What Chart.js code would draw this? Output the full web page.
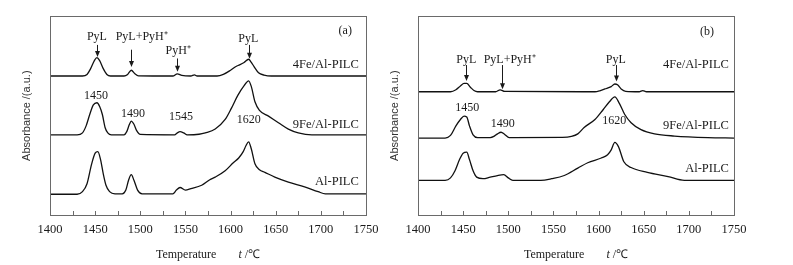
<!DOCTYPE html>
<html>
<head>
<meta charset="utf-8">
<script src="https://cdn.jsdelivr.net/npm/chart.js@4.4.1/dist/chart.umd.min.js"></script>
<style>
html, body { margin: 0; padding: 0; background: #fff; }
#wrap { position: relative; width: 793px; height: 265px; overflow: hidden; }
canvas { position: absolute; top: 0; }
#chartA { left: 0; }
#chartB { left: 368px; }
</style>
</head>
<body>
<div id="wrap">
  <canvas id="chartA" width="396" height="265"></canvas>
  <canvas id="chartB" width="425" height="265"></canvas>
</div>
<script>
// panel (a) spectra, wavenumber vs absorbance (a.u., curves stacked)
const a4FeX = [1400,1420,1436,1441,1445,1449,1452,1455,1459,1463,1467,1482,1486,1490,1494,1498,1536,1541,1546,1556,1560,1563,1585,1592,1600,1606,1610,1615,1620,1623,1626,1631,1637,1645,1750];
const a4FeY = [6.99,6.99,6.99,7.07,7.36,7.75,7.91,7.76,7.36,7.07,6.99,6.99,7.07,7.28,7.10,7.00,6.99,7.10,7.02,6.99,7.05,6.99,6.99,7.07,7.28,7.47,7.55,7.67,7.83,7.67,7.46,7.15,7.04,6.99,6.99];

const a9FeX = [1400,1430,1436,1440,1444,1448,1452,1455,1458,1461,1464,1468,1482,1485,1488,1490,1493,1496,1500,1538,1541,1544,1548,1552,1565,1572,1583,1594,1601,1608,1615,1620,1623,1627,1632,1642,1653,1664,1675,1690,1750];
const a9FeY = [4.04,4.04,4.14,4.49,5.06,5.54,5.65,5.46,5.06,4.41,4.14,4.04,4.04,4.20,4.57,4.73,4.57,4.25,4.06,4.04,4.14,4.20,4.14,4.04,4.07,4.14,4.33,4.81,5.38,6.02,6.51,6.75,6.46,5.70,5.27,4.98,4.65,4.33,4.14,4.04,4.04];

const aAlX = [1400,1430,1436,1441,1446,1450,1453,1456,1459,1462,1466,1472,1480,1484,1487,1490,1493,1497,1502,1536,1540,1544,1550,1556,1568,1577,1583,1594,1603,1609,1614,1617,1620,1623,1627,1632,1638,1649,1664,1682,1697,1705,1750];
const aAlY = [1.06,1.06,1.19,1.59,2.56,3.12,3.20,2.80,2.08,1.51,1.19,1.08,1.08,1.27,1.76,2.04,1.76,1.27,1.08,1.08,1.27,1.40,1.27,1.34,1.51,1.79,1.92,2.24,2.64,2.88,3.20,3.49,3.69,3.33,2.59,2.29,2.16,1.92,1.67,1.43,1.19,1.08,1.08];

// panel (b)
const b4FeX = [1400,1436,1442,1447,1451,1454,1458,1462,1466,1486,1491,1496,1596,1602,1607,1614,1618,1621,1625,1630,1645,1649,1653,1750];
const b4FeY = [6.20,6.20,6.30,6.49,6.62,6.62,6.43,6.26,6.20,6.20,6.30,6.22,6.20,6.26,6.34,6.46,6.59,6.55,6.34,6.22,6.20,6.26,6.20,6.20];

const b9FeX = [1400,1430,1436,1442,1447,1451,1454,1457,1461,1466,1480,1484,1488,1492,1496,1501,1560,1570,1577,1584,1596,1605,1612,1618,1623,1629,1636,1647,1662,1684,1721,1750];
const b9FeY = [3.88,3.88,4.01,4.49,4.81,4.98,4.94,4.49,4.04,3.90,3.90,3.96,4.09,4.17,4.06,3.90,3.91,3.96,4.09,4.41,4.81,5.30,5.70,5.94,5.62,5.06,4.65,4.30,4.09,3.98,3.90,3.88];

const bAlX = [1400,1430,1436,1441,1446,1450,1454,1457,1461,1465,1472,1480,1488,1495,1500,1505,1536,1548,1562,1577,1588,1603,1610,1614,1618,1622,1628,1636,1654,1677,1695,1750];
const bAlY = [1.76,1.76,1.88,2.24,2.80,3.12,3.17,2.80,2.24,1.92,1.84,1.92,2.00,2.04,1.88,1.76,1.76,1.84,2.00,2.37,2.64,2.88,3.04,3.29,3.66,3.45,2.69,2.40,2.16,1.95,1.76,1.76];

const xTicks = [1400, 1450, 1500, 1550, 1600, 1650, 1700, 1750];
const seriesNames = ['4Fe/Al-PILC', '9Fe/Al-PILC', 'Al-PILC'];

// text notes: x/y in data units, arrow = [x, yFrom, yTo]
const notesA = [
  {text: 'PyL', x: 1452, y: 8.93, arrow: [1452, 8.55, 7.95]},
  {text: 'PyL+PyH\u207A', x: 1501.6, y: 8.94, arrow: [1490, 8.31, 7.44]},
  {text: 'PyH\u207A', x: 1542, y: 8.27, arrow: [1541, 7.87, 7.20]},
  {text: 'PyL', x: 1619.6, y: 8.84, arrow: [1620, 8.55, 7.86]},
  {text: '1450', x: 1451, y: 6.02},
  {text: '1490', x: 1492, y: 5.11},
  {text: '1545', x: 1545, y: 4.93},
  {text: '1620', x: 1620, y: 4.78},
  {text: '(a)', x: 1727, y: 9.24}
];
const notesB = [
  {text: 'PyL', x: 1453.5, y: 7.79, arrow: [1453, 7.54, 6.74]},
  {text: 'PyL+PyH\u207A', x: 1501.6, y: 7.79, arrow: [1493, 7.54, 6.33]},
  {text: 'PyL', x: 1619, y: 7.79, arrow: [1619, 7.54, 6.71]},
  {text: '1450', x: 1454.6, y: 5.41},
  {text: '1490', x: 1494, y: 4.57},
  {text: '1620', x: 1617.5, y: 4.73},
  {text: '(b)', x: 1720, y: 9.21}
];
const labelsA = {x: 1742, y: [7.58, 4.54, 1.68]};
const labelsB = {x: 1744.4, y: [7.55, 4.49, 2.32]};

const SERIF = '"Liberation Serif", "Times New Roman", serif';

function pts(xs, ys) {
  return xs.map((v, i) => ({x: v, y: ys[i]}));
}

const panelDecor = {
  id: 'panelDecor',
  afterDatasetsDraw(chart, args, opts) {
    const {ctx, chartArea: ca, scales: {x, y}} = chart;
    ctx.save();
    // box round the plot
    ctx.strokeStyle = '#6a6a6a';
    ctx.lineWidth = 1;
    ctx.strokeRect(Math.round(ca.left) + 0.5, Math.round(ca.top) + 0.5, Math.round(ca.width), Math.round(ca.height));
    // small inward ticks every 25
    ctx.beginPath();
    for (let v = 1425; v < 1750; v += 25) {
      const px = Math.round(x.getPixelForValue(v)) + 0.5;
      ctx.moveTo(px, Math.round(ca.bottom));
      ctx.lineTo(px, Math.round(ca.bottom) - 4);
    }
    ctx.stroke();

    ctx.fillStyle = '#1a1a1a';
    ctx.strokeStyle = '#1a1a1a';
    ctx.font = '12px ' + SERIF;
    ctx.textAlign = 'center';
    ctx.textBaseline = 'middle';
    opts.notes.forEach(n => {
      ctx.fillText(n.text, x.getPixelForValue(n.x), y.getPixelForValue(n.y));
      if (n.arrow) {
        const ax = Math.round(x.getPixelForValue(n.arrow[0])) + 0.5;
        const y1 = y.getPixelForValue(n.arrow[1]);
        const y2 = y.getPixelForValue(n.arrow[2]);
        ctx.beginPath();
        ctx.moveTo(ax, y1);
        ctx.lineTo(ax, y2 - 4);
        ctx.stroke();
        ctx.beginPath();
        ctx.moveTo(ax - 2.5, y2 - 6);
        ctx.lineTo(ax + 2.5, y2 - 6);
        ctx.lineTo(ax, y2);
        ctx.closePath();
        ctx.fill();
      }
    });

    // series names on the right
    ctx.font = '12.5px ' + SERIF;
    ctx.textAlign = 'right';
    seriesNames.forEach((s, i) => {
      ctx.fillText(s, x.getPixelForValue(opts.labels.x), y.getPixelForValue(opts.labels.y[i]));
    });

    // axis title: Temperature  t /°C (t in italics)
    const cx = (ca.left + ca.right) / 2;
    const ty = 255;
    ctx.textAlign = 'left';
    ctx.font = '12px ' + SERIF;
    const w1 = ctx.measureText('Temperature').width;
    const w3 = ctx.measureText(' /\u2103').width;
    ctx.font = 'italic 12px ' + SERIF;
    const w2 = ctx.measureText('t').width;
    const gap = 22;
    let sx = cx - (w1 + gap + w2 + w3) / 2;
    ctx.font = '12px ' + SERIF;
    ctx.fillText('Temperature', sx, ty);
    sx += w1 + gap;
    ctx.font = 'italic 12px ' + SERIF;
    ctx.fillText('t', sx, ty);
    sx += w2;
    ctx.font = '12px ' + SERIF;
    ctx.fillText(' /\u2103', sx, ty);
    ctx.restore();
  }
};

function makePanel(id, rightPad, series, notes, labels) {
  const ctx = document.getElementById(id).getContext('2d');
  return new Chart(ctx, {
    type: 'line',
    data: {
      datasets: series.map((s, i) => ({
        label: seriesNames[i],
        data: s,
        borderColor: '#111',
        borderWidth: 1.3,
        pointRadius: 0,
        fill: false,
        cubicInterpolationMode: 'monotone'
      }))
    },
    options: {
      responsive: false,
      animation: false,
      devicePixelRatio: 1,
      layout: {padding: {left: 20.4, right: rightPad, top: 16, bottom: 20.6}},
      plugins: {
        legend: {display: false},
        tooltip: {enabled: false},
        panelDecor: {notes: notes, labels: labels}
      },
      scales: {
        x: {
          type: 'linear',
          min: 1400,
          max: 1750,
          afterBuildTicks: axis => { axis.ticks = xTicks.map(v => ({value: v})); },
          grid: {display: false, drawTicks: false},
          border: {display: false},
          ticks: {
            color: '#1a1a1a',
            padding: 7,
            maxRotation: 0,
            autoSkip: false,
            callback: v => String(v),
            font: {family: SERIF, size: 12.5}
          }
        },
        y: {
          min: 0,
          max: 10,
          grid: {display: false, drawTicks: false},
          border: {display: false},
          ticks: {display: false},
          title: {
            display: true,
            text: 'Absorbance /(a.u.)',
            color: '#333',
            padding: {top: 0, bottom: 16.4},
            font: {family: '"Liberation Sans", Arial, sans-serif', size: 11}
          }
        }
      }
    },
    plugins: [panelDecor]
  });
}

makePanel('chartA', 30,
  [pts(a4FeX, a4FeY), pts(a9FeX, a9FeY), pts(aAlX, aAlY)], notesA, labelsA);
makePanel('chartB', 59,
  [pts(b4FeX, b4FeY), pts(b9FeX, b9FeY), pts(bAlX, bAlY)], notesB, labelsB);
</script>
</body>
</html>
